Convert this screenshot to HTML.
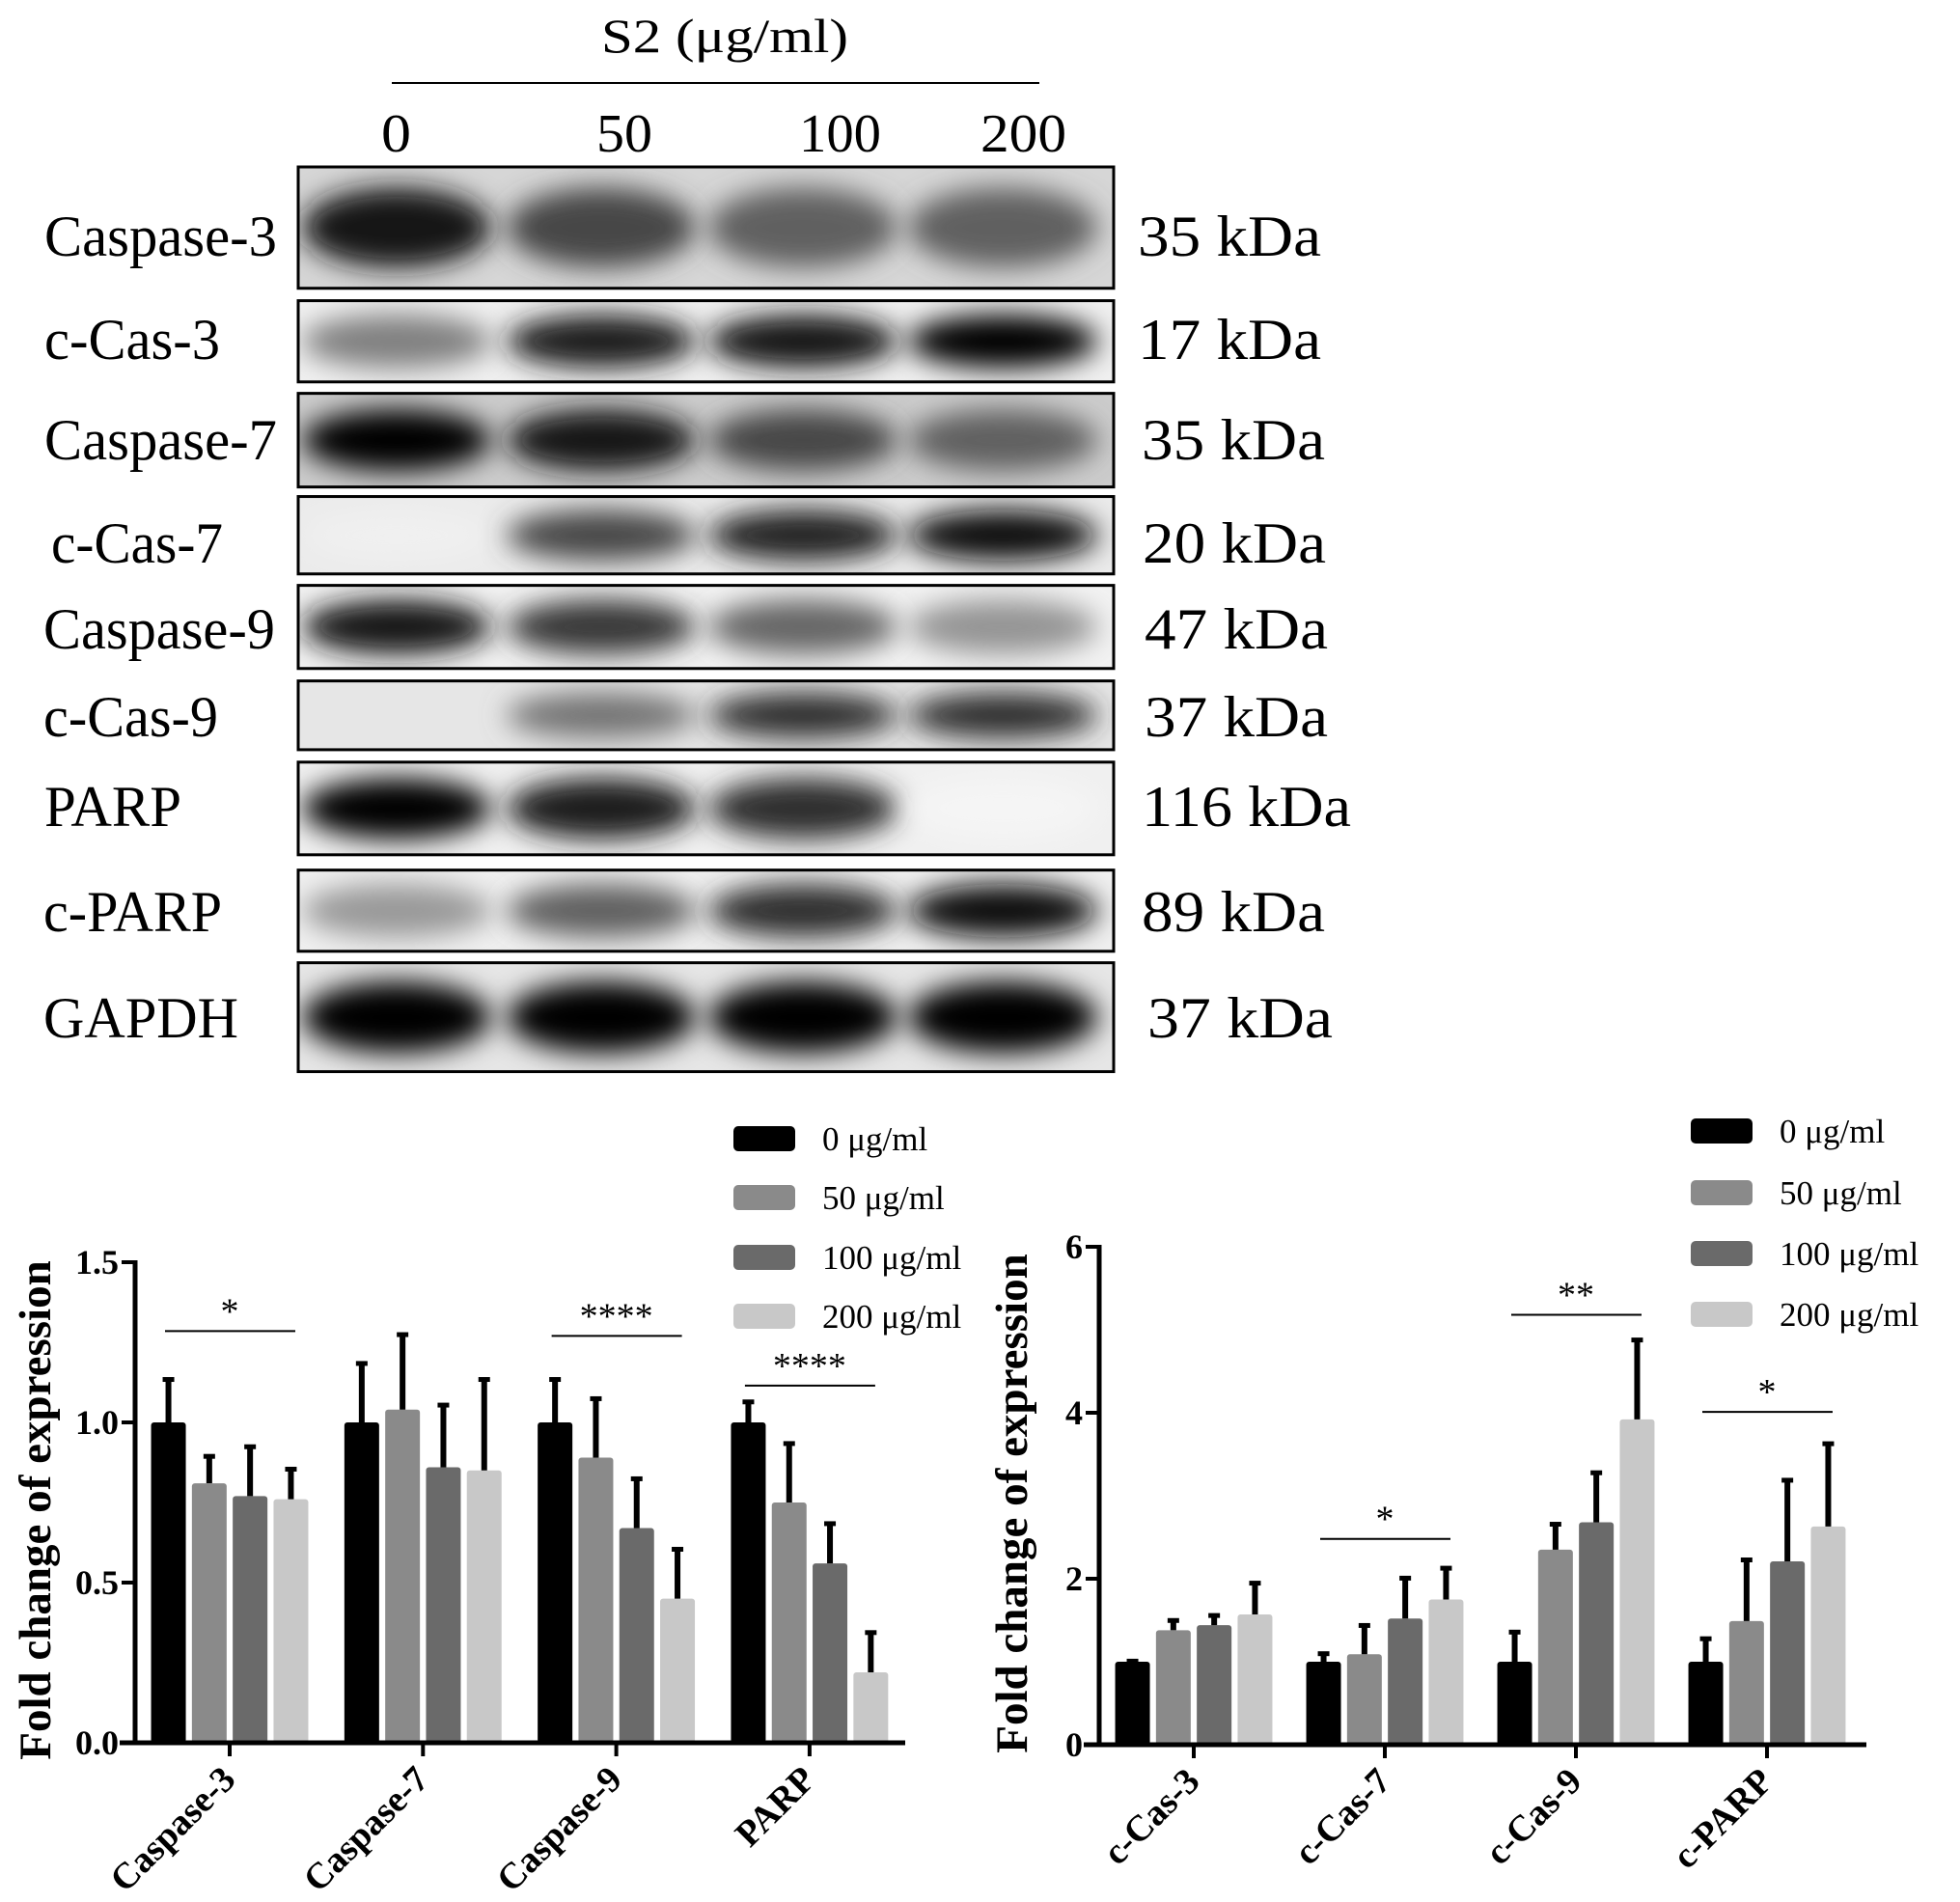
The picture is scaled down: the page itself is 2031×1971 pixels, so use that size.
<!DOCTYPE html>
<html><head><meta charset="utf-8"><style>
html,body{margin:0;padding:0;background:#fff;}
svg{display:block;font-family:"Liberation Serif",serif;}
</style></head>
<body>
<svg id="fig" width="2031" height="1971" viewBox="0 0 2031 1971" xmlns="http://www.w3.org/2000/svg">
<defs>
<filter id="blur" x="-30%" y="-60%" width="160%" height="220%"><feGaussianBlur stdDeviation="14"/></filter>
</defs>
<g id="blot"></g>
<g id="left"></g>
<g id="right"></g>
</svg>
<script>
const NS="http://www.w3.org/2000/svg";
function mk(tag,attrs,parent,txt){const e=document.createElementNS(NS,tag);for(const k in attrs)e.setAttribute(k,attrs[k]);if(txt!==undefined)e.textContent=txt;parent.appendChild(e);return e;}

// ---------- Western blot data ----------
const blotRows=["Caspase-3","c-Cas-3","Caspase-7","c-Cas-7","Caspase-9","c-Cas-9","PARP","c-PARP","GAPDH"];
const blotKda=["35 kDa","17 kDa","35 kDa","20 kDa","47 kDa","37 kDa","116 kDa","89 kDa","37 kDa"];
const blotLanes=["0","50","100","200"];
const bandIntensity=[
 [0.92,0.72,0.62,0.62],
 [0.5,0.88,0.92,0.98],
 [0.98,0.92,0.72,0.62],
 [0.06,0.72,0.86,0.96],
 [0.9,0.78,0.6,0.42],
 [0.1,0.55,0.82,0.82],
 [1.0,0.88,0.82,0.04],
 [0.4,0.62,0.82,0.96],
 [1.0,1.0,1.0,1.0]];
const blotBg=[0.16,0.06,0.2,0.08,0.05,0.1,0.06,0.06,0.1];

const blot=document.getElementById('blot');
const adj=y=>173+(y-173)*0.99;
const rowTop=[173,313,410,518,611,711,796,909,1006].map(adj);
const rowBot=[300,398,508,599,698,783,893,994,1120].map(adj);
const labelBase=[266,374,479,587,677,769,863,973,1084].map(adj);
const labelW=[241,182,241,178,240,181,142,185,202];
const labelX=[46,46,46,53,45,45,46,45,45];
const kdaX=[1179,1179,1183,1184,1186,1186,1183,1183,1189];
const kdaW=[190,190,190,190,190,190,217,190,192];
const laneC=[411,623,832,1039];
const laneTx=[[395,31],[618,58],[828,85],[1016,89]];

let t=mk('text',{x:623,y:54,'font-size':50,textLength:256,lengthAdjust:'spacingAndGlyphs'},blot,'S2 (μg/ml)');

let l=mk('line',{x1:406,y1:86,x2:1077,y2:86,stroke:'#000','stroke-width':2},blot);

blotLanes.forEach((s,i)=>{const e=mk('text',{x:laneTx[i][0],y:157,'font-size':56,textLength:laneTx[i][1],lengthAdjust:'spacingAndGlyphs'},blot,s);
 });

blotRows.forEach((name,r)=>{
 const g=mk('g',{},blot);
 
 
 const y0=rowTop[r],y1=rowBot[r],h=y1-y0;
 const cid='clip'+r;
 const cp=mk('clipPath',{id:cid},g);mk('rect',{x:309,y:y0,width:845,height:h},cp);
 const bgv=Math.round(255*(1-blotBg[r]));
 const bg=mk('rect',{x:309,y:y0,width:845,height:h,fill:`rgb(${bgv},${bgv},${bgv})`},g);
 
 const bg2=mk('g',{'clip-path':`url(#${cid})`},g);
 bandIntensity[r].forEach((v,i)=>{
  const c=Math.round(255*(1-v));
  const band=mk('ellipse',{cx:laneC[i],cy:y0+h*0.5,rx:98,ry:h*0.33,fill:`rgb(${c},${c},${c})`,filter:'url(#blur)'},bg2);
  
  
 });
 const fr=mk('rect',{x:309,y:y0,width:845,height:h,fill:'none',stroke:'#000','stroke-width':3},g);
 
 const lb=mk('text',{x:labelX[r],y:labelBase[r],'font-size':60,textLength:labelW[r],lengthAdjust:'spacingAndGlyphs'},g,name);
 
 const kd=mk('text',{x:kdaX[r],y:labelBase[r],'font-size':60,textLength:kdaW[r],lengthAdjust:'spacingAndGlyphs'},g,blotKda[r]);
 
});

// ---------- Bar chart data ----------
const seriesNames=["0 μg/ml","50 μg/ml","100 μg/ml","200 μg/ml"];
const seriesColors=["#000000","#8a8a8a","#6a6a6a","#c8c8c8"];

const leftCats=["Caspase-3","Caspase-7","Caspase-9","PARP"];
const leftTicks=["0.0","0.5","1.0","1.5"];
const leftTickVals=[0,0.5,1.0,1.5];
const leftVals=[[1.0,0.81,0.77,0.76],[1.0,1.04,0.86,0.85],[1.0,0.89,0.67,0.45],[1.0,0.75,0.56,0.22]];
const leftErr=[[1.14,0.90,0.93,0.86],[1.19,1.28,1.06,1.14],[1.14,1.08,0.83,0.61],[1.07,0.94,0.69,0.35]];
const leftSigCat=[0,2,3];
const leftSigY=[1.285,1.27,1.115];
const leftSigTxt=["*","****","****"];

const rightCats=["c-Cas-3","c-Cas-7","c-Cas-9","c-PARP"];
const rightTicks=["0","2","4","6"];
const rightTickVals=[0,2,4,6];
const rightVals=[[1.0,1.38,1.44,1.57],[1.0,1.09,1.52,1.75],[1.0,2.35,2.68,3.92],[1.0,1.49,2.21,2.63]];
const rightErr=[[1.03,1.52,1.58,1.97],[1.12,1.46,2.03,2.15],[1.38,2.68,3.30,4.90],[1.30,2.25,3.21,3.65]];
const rightSigCat=[1,2,3];
const rightSigY=[2.48,5.18,4.01];
const rightSigTxt=["*","**","*"];

function chart(root,cfg){
 const {ax,axEnd,y0,yTop,max,tick0,tickStep,cats,vals,errs,ticks,tickVals,sigCat,sigY,sigTxt,titleX,legX,legY}=cfg;
 const ys=v=>y0-(v/max)*(y0-yTop);
 const xc=i=>tick0+i*tickStep;
 const barW=36,barGap=42.3;
 cats.forEach((c,i)=>{
  vals[i].forEach((v,s)=>{
   const cx=xc(i)+(s-1.5)*barGap;
   const b=mk('rect',{x:cx-barW/2,y:ys(v),width:barW,height:y0-ys(v),fill:seriesColors[s],rx:3},root);
   
   
   const e=mk('line',{x1:cx,x2:cx,y1:ys(v),y2:ys(errs[i][s]),stroke:'#000','stroke-width':6},root);
   
   const cap=mk('line',{x1:cx-6,x2:cx+6,y1:ys(errs[i][s])+2,y2:ys(errs[i][s])+2,stroke:'#000','stroke-width':5},root);
   
  });
  const tk=mk('line',{x1:xc(i),x2:xc(i),y1:y0,y2:y0+14,stroke:'#000','stroke-width':4},root);
  
  const lab=mk('text',{x:0,y:0,'font-size':38,'font-weight':'bold','text-anchor':'end',transform:`translate(${xc(i)+8},${y0+40}) rotate(-45)`},root,c);
  
 });
 const ya=mk('line',{x1:ax,x2:ax,y1:yTop-2,y2:y0+2,stroke:'#000','stroke-width':5},root);
 
 const xa=mk('line',{x1:ax-16,x2:axEnd,y1:y0,y2:y0,stroke:'#000','stroke-width':5},root);
 
 ticks.forEach((tx,k)=>{
  const yy=ys(tickVals[k]);
  const tl=mk('line',{x1:ax-14,x2:ax,y1:yy,y2:yy,stroke:'#000','stroke-width':4},root);
  
  const tt=mk('text',{x:ax-17,y:yy+12,'font-size':36,'font-weight':'bold','text-anchor':'end'},root,tx);
  
 });
 const ttl=mk('text',{x:0,y:0,'font-size':47,'font-weight':'bold','text-anchor':'middle',transform:`translate(${titleX},${(y0+yTop)/2+8}) rotate(-90)`},root,'Fold change of expression');
 
 sigCat.forEach((ci,k)=>{
  const yy=ys(sigY[k]);
  const sl=mk('line',{x1:xc(ci)-67,x2:xc(ci)+68,y1:yy,y2:yy,stroke:'#000','stroke-width':2},root);
  
  const st=mk('text',{x:xc(ci),y:yy-8,'font-size':38,'text-anchor':'middle'},root,sigTxt[k]);
  
 });
 seriesNames.forEach((n,s)=>{
  const lg=mk('g',{},root);
  
  
  mk('rect',{x:legX,y:legY[s]-13,width:64,height:26,rx:5,fill:seriesColors[s]},lg);
  mk('text',{x:legX+92,y:legY[s]+12,'font-size':35},lg,n);
 });
}
chart(document.getElementById('left'),{ax:140,axEnd:938,y0:1806,yTop:1308,max:1.5,tick0:238,tickStep:200.3,
 cats:leftCats,vals:leftVals,errs:leftErr,ticks:leftTicks,tickVals:leftTickVals,sigCat:leftSigCat,sigY:leftSigY,sigTxt:leftSigTxt,
 titleX:52,legX:760,legY:[1180,1241,1303,1364]});
chart(document.getElementById('right'),{ax:1139,axEnd:1934,y0:1808,yTop:1292,max:6,tick0:1237,tickStep:198,
 cats:rightCats,vals:rightVals,errs:rightErr,ticks:rightTicks,tickVals:rightTickVals,sigCat:rightSigCat,sigY:rightSigY,sigTxt:rightSigTxt,
 titleX:1064,legX:1752,legY:[1172,1236,1299,1362]});
</script>
</body></html>
